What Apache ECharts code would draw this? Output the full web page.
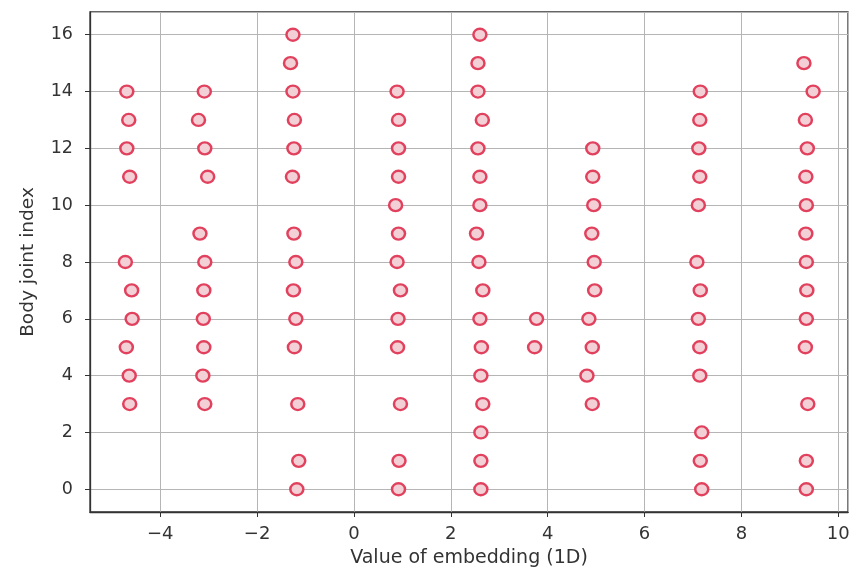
<!DOCTYPE html>
<html>
<head>
<meta charset="utf-8">
<script src="https://cdn.jsdelivr.net/npm/echarts@6/dist/echarts.min.js"></script>
<style>
  html, body { margin: 0; padding: 0; background: #fff; }
  #chart { width: 854px; height: 570px; }
</style>
</head>
<body>
<div id="chart"></div>
<script>
// body joint indices and embedding values, one pair of arrays per column of points
var jointsA = [14, 13, 12, 11, 8, 7, 6, 5, 4, 3];
var valuesA = [-4.69, -4.65, -4.69, -4.63, -4.72, -4.59, -4.58, -4.70, -4.64, -4.63];

var jointsB = [14, 13, 12, 11, 9, 8, 7, 6, 5, 4, 3];
var valuesB = [-3.09, -3.21, -3.08, -3.02, -3.18, -3.08, -3.10, -3.11, -3.10, -3.12, -3.08];

var jointsC = [16, 15, 14, 13, 12, 11, 9, 8, 7, 6, 5, 3, 1, 0];
var valuesC = [-1.26, -1.31, -1.26, -1.23, -1.24, -1.27, -1.24, -1.20, -1.25, -1.20, -1.23, -1.16, -1.14, -1.18];

var jointsD = [14, 13, 12, 11, 10, 9, 8, 7, 6, 5, 3, 1, 0];
var valuesD = [0.89, 0.92, 0.92, 0.92, 0.86, 0.92, 0.89, 0.96, 0.91, 0.90, 0.96, 0.93, 0.92];

var jointsE = [16, 15, 14, 13, 12, 11, 10, 9, 8, 7, 6, 5, 4, 3, 2, 1, 0];
var valuesE = [2.60, 2.56, 2.56, 2.65, 2.56, 2.60, 2.60, 2.53, 2.58, 2.66, 2.60, 2.63, 2.62, 2.66, 2.62, 2.62, 2.62];

var jointsF = [6, 5];
var valuesF = [3.77, 3.73];

var jointsG = [12, 11, 10, 9, 8, 7, 6, 5, 4, 3];
var valuesG = [4.93, 4.93, 4.95, 4.91, 4.96, 4.97, 4.85, 4.92, 4.81, 4.92];

var jointsH = [14, 13, 12, 11, 10, 8, 7, 6, 5, 4, 2, 1, 0];
var valuesH = [7.15, 7.14, 7.12, 7.14, 7.11, 7.08, 7.15, 7.11, 7.14, 7.14, 7.18, 7.15, 7.18];

var jointsI = [15, 14, 13, 12, 11, 10, 9, 8, 7, 6, 5, 3, 1, 0];
var valuesI = [9.29, 9.48, 9.32, 9.36, 9.33, 9.34, 9.33, 9.34, 9.35, 9.34, 9.32, 9.37, 9.34, 9.34];

var columns = [
  [valuesA, jointsA], [valuesB, jointsB], [valuesC, jointsC],
  [valuesD, jointsD], [valuesE, jointsE], [valuesF, jointsF],
  [valuesG, jointsG], [valuesH, jointsH], [valuesI, jointsI]
];

var points = [];
columns.forEach(function (c) {
  for (var i = 0; i < c[0].length; i++) {
    points.push([c[0][i], c[1][i]]);
  }
});

var chart = echarts.init(document.getElementById('chart'));

var font = 'DejaVu Sans';

var option = {
  backgroundColor: '#fff',
  animation: false,
  grid: {
    left: 90,
    right: 6,
    top: 12,
    bottom: 58,
    outerBoundsMode: 'none',
    containLabel: false,
    show: true,
    borderColor: '#333',
    borderWidth: 1.3
  },
  xAxis: {
    type: 'value',
    min: -5.45,
    max: 10.2,
    minInterval: 2,
    maxInterval: 2,
    name: 'Value of embedding (1D)',
    nameLocation: 'middle',
    nameGap: 37,
    nameTextStyle: { fontFamily: font, fontSize: 19, color: '#333' },
    axisLine: { show: true, onZero: false, lineStyle: { color: '#333', width: 1.3 } },
    axisTick: { show: true, inside: false, length: 5, lineStyle: { color: '#333' } },
    axisLabel: {
      fontFamily: font, fontSize: 18, color: '#333', margin: 13,
      formatter: function (v) { return v < 0 ? '\u2212' + Math.abs(v) : String(v); },
      showMinLabel: false, showMaxLabel: false
    },
    splitLine: { show: true, lineStyle: { color: '#b5b5b5', width: 1 } }
  },
  yAxis: {
    type: 'value',
    min: -0.8,
    max: 16.8,
    minInterval: 2,
    maxInterval: 2,
    name: 'Body joint index',
    nameLocation: 'middle',
    nameGap: 52,
    nameTextStyle: { fontFamily: font, fontSize: 18.5, color: '#333' },
    axisLine: { show: true, onZero: false, lineStyle: { color: '#333', width: 1.3 } },
    axisTick: { show: true, inside: false, length: 5, lineStyle: { color: '#333' } },
    axisLabel: {
      fontFamily: font, fontSize: 17.5, color: '#333', margin: 17,
      showMinLabel: false, showMaxLabel: false
    },
    splitLine: { show: true, lineStyle: { color: '#b5b5b5', width: 1 } }
  },
  series: [{
    type: 'scatter',
    data: points,
    symbol: 'circle',
    symbolSize: [13, 12],
    itemStyle: {
      color: '#f3d0d6',
      borderColor: '#e2415e',
      borderWidth: 2.4,
      opacity: 1
    }
  }]
};

chart.setOption(option);
</script>
</body>
</html>
